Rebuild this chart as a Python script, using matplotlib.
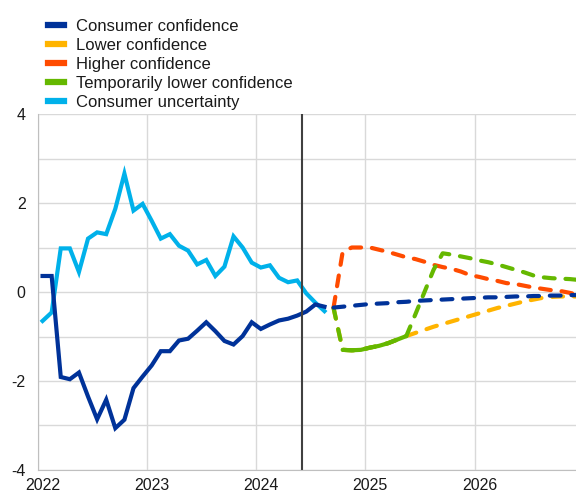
import matplotlib.pyplot as plt
import numpy as np
from matplotlib.lines import Line2D

plt.rcParams['font.family'] = ['Liberation Sans', 'DejaVu Sans']
plt.rcParams['axes.unicode_minus'] = False

# monthly observations, Jan 2022 - Aug 2024
confidence = [0.36, 0.36, -1.91, -1.96, -1.81, -2.35, -2.86, -2.42, -3.06, -2.87,
              -2.16, -1.90, -1.65, -1.33, -1.33, -1.09, -1.05, -0.87, -0.68, -0.88,
              -1.10, -1.18, -0.99, -0.68, -0.83, -0.73, -0.64, -0.60, -0.53, -0.44,
              -0.28, -0.33]
uncertainty = [-0.65, -0.46, 0.98, 0.98, 0.45, 1.20, 1.34, 1.30, 1.87, 2.66,
               1.83, 1.98, 1.60, 1.20, 1.30, 1.04, 0.93, 0.62, 0.72, 0.36,
               0.57, 1.25, 1.00, 0.66, 0.55, 0.60, 0.32, 0.22, 0.26, -0.03,
               -0.24, -0.43]

# scenarios, Sep 2024 - Dec 2026
baseline = [-0.35, -0.33, -0.31, -0.29, -0.27, -0.26, -0.25, -0.23, -0.22, -0.20,
            -0.19, -0.18, -0.17, -0.16, -0.15, -0.14, -0.13, -0.12, -0.12, -0.11,
            -0.10, -0.10, -0.09, -0.09, -0.08, -0.08, -0.07, -0.07]
lower = [-0.36, -1.30, -1.31, -1.30, -1.25, -1.21, -1.15, -1.07, -0.99, -0.92,
         -0.85, -0.78, -0.72, -0.66, -0.60, -0.54, -0.48, -0.42, -0.36, -0.31,
         -0.26, -0.21, -0.17, -0.13, -0.11, -0.10, -0.10, -0.10]
higher = [-0.35, 0.90, 1.00, 1.00, 1.00, 0.95, 0.90, 0.84, 0.78, 0.74,
          0.68, 0.61, 0.56, 0.52, 0.46, 0.38, 0.34, 0.29, 0.25, 0.20,
          0.18, 0.14, 0.10, 0.07, 0.04, 0.02, -0.02, -0.07]
temp_lower = [-0.36, -1.30, -1.31, -1.30, -1.25, -1.21, -1.15, -1.07, -0.99, -0.50,
              0.00, 0.50, 0.87, 0.84, 0.80, 0.76, 0.71, 0.67, 0.62, 0.56,
              0.50, 0.44, 0.37, 0.33, 0.31, 0.30, 0.29, 0.27]

years = [2022, 2023, 2024, 2025, 2026]
cutoff = 2024 + 5 / 12

DARK_BLUE = '#003299'
YELLOW = '#ffb400'
RED = '#ff4b00'
GREEN = '#65b800'
LIGHT_BLUE = '#00b1ea'


def month_axis(start, n):
  return 2022 + (start + np.arange(n) + 0.5) / 12


def main():
  fig = plt.figure(figsize=(5.76, 4.94), dpi=100)
  ax = fig.add_axes([0.066, 0.0486, 0.934, 0.7206])

  x_hist = month_axis(0, len(confidence))
  x_proj = month_axis(len(confidence), len(baseline))

  dash = dict(lw=3, ls=(0, (2.6, 2.6)), dash_capstyle='round')
  ax.plot(x_proj, lower, color=YELLOW, **dash)
  ax.plot(x_proj, higher, color=RED, **dash)
  ax.plot(x_proj, temp_lower, color=GREEN, **dash)
  ax.plot(x_proj[1:9], temp_lower[1:9], color=GREEN, lw=3,
          solid_capstyle='round')
  ax.plot(x_proj, baseline, color=DARK_BLUE, **dash)
  ax.plot(x_hist, uncertainty, color=LIGHT_BLUE, lw=3, solid_joinstyle='miter')
  ax.plot(x_hist, confidence, color=DARK_BLUE, lw=3, solid_joinstyle='miter')
  ax.axvline(cutoff, color='#404040', lw=1.5)

  ax.set_xlim(2022, 2026.93)
  ax.set_ylim(-4, 4)
  ax.set_xticks(years)
  ax.set_xticklabels([])
  ax.set_xticks([y + 0.045 for y in years], minor=True)
  ax.set_xticklabels([str(y) for y in years], minor=True)
  ax.set_yticks([-4, -2, 0, 2, 4])
  ax.set_yticks([-3, -1, 1, 3], minor=True)
  ax.grid(True, which='major', color='#d9d9d9', lw=1)
  ax.grid(True, which='minor', axis='y', color='#d9d9d9', lw=1)
  ax.set_axisbelow(True)
  ax.tick_params(which='both', length=0, labelsize=11.5, colors='#1a1a1a')
  ax.tick_params(axis='y', which='major', pad=9)
  ax.tick_params(axis='x', which='minor', pad=6)
  for side in ('top', 'right'):
    ax.spines[side].set_visible(False)
  for side in ('left', 'bottom'):
    ax.spines[side].set_color('#bfbfbf')

  handles = [Line2D([], [], color=c, lw=4.5)
             for c in (DARK_BLUE, YELLOW, RED, GREEN, LIGHT_BLUE)]
  labels = ['Consumer confidence', 'Lower confidence', 'Higher confidence',
            'Temporarily lower confidence', 'Consumer uncertainty']
  fig.legend(handles, labels, loc='upper left', bbox_to_anchor=(0.083, 0.961),
             frameon=False, fontsize=12, handlelength=0.95, handletextpad=0.75,
             labelspacing=0.23, borderpad=0, borderaxespad=0,
             labelcolor='#1a1a1a')

  fig.savefig('out.png', dpi=100)


if __name__ == '__main__':
  main()
